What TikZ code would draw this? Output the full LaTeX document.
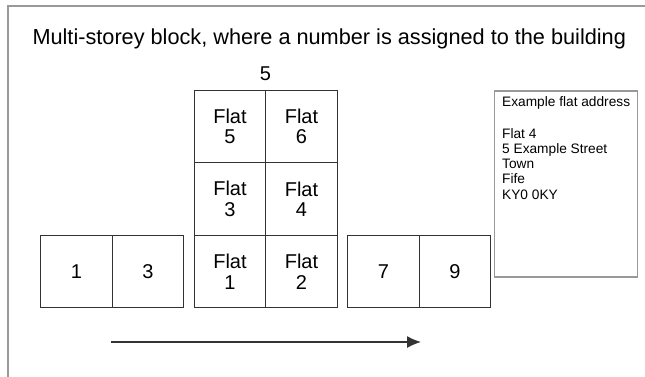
\documentclass[tikz,border=0pt]{standalone}
\usepackage{fontspec}
\setmainfont{Liberation Sans}
\usetikzlibrary{arrows.meta}

\definecolor{boxline}{HTML}{333333}
\definecolor{frameline}{HTML}{999999}

\tikzset{
  cell/.style={draw=boxline, line width=1.3pt, minimum width=71.5pt, minimum height=72.5pt,
    inner sep=0pt, outer sep=0pt, align=center, font=\fontsize{20}{20.5}\selectfont},
  addrbox/.style={draw=frameline, line width=1.4pt, minimum width=143pt, minimum height=186pt,
    inner sep=0pt, outer sep=0pt}
}

\begin{document}
\begin{tikzpicture}[x=1pt,y=-1pt]
\useasboundingbox (0,0) rectangle (645,376);
\fill[white] (0,0) rectangle (645,376);
\draw[frameline, line width=1.5pt] (646,6) -- (8,6) -- (8,377);

\node (T) at (29,39) [anchor=west, font=\fontsize{21.7}{24}\selectfont]{Multi-storey block, where a number is assigned to the building};

% houses on the left
\node (H-1) at (76.5,271.5) [cell]{1};
\node (H-3) at (148,271.5) [cell]{3};

% the block
\node (F-1) at (230,271.5) [cell]{Flat\\1};
\node (F-2) at (301.5,271.5) [cell]{Flat\\2};
\node (F-3) at (230,199) [cell]{Flat\\3};
\node (F-4) at (301.5,199) [cell]{Flat\\4};
\node (F-5) at (230,126.5) [cell]{Flat\\5};
\node (F-6) at (301.5,126.5) [cell]{Flat\\6};
\node (N-5) at (265.5,74) [font=\fontsize{20}{24}\selectfont]{5};

% houses on the right
\node (H-7) at (383.5,271.5) [cell]{7};
\node (H-9) at (455,271.5) [cell]{9};

% address
\node (A) at (566,184) [addrbox]{};
\node (A-1) at (502,96) [anchor=north west, align=left, inner sep=0pt, font=\fontsize{13.7}{15.2}\selectfont]{Example flat address\\[17pt]Flat 4\\5 Example Street\\Town\\Fife\\KY0 0KY};

% numbering direction
\coordinate (S) at (111,342);
\coordinate (E) at (421,342);
\draw [-{Latex[length=14pt,width=12pt]}, line width=1.3pt, boxline] (S) -- (E);

\end{tikzpicture}
\end{document}
